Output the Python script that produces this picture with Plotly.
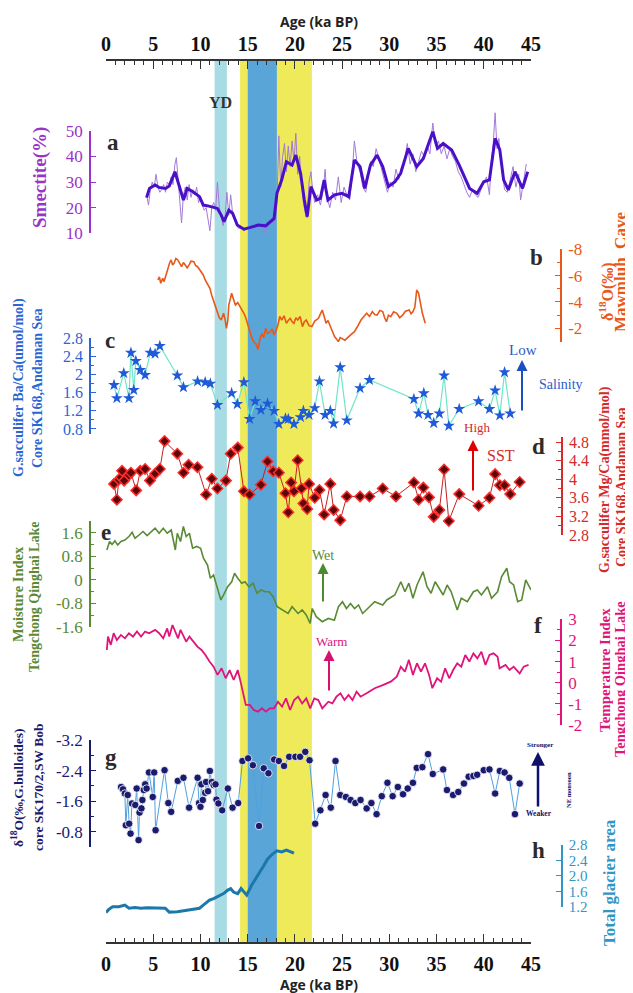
import plotly.graph_objects as go

# ---------------- data (ages in ka BP) ----------------
age_ticks = [0, 5, 10, 15, 20, 25, 30, 35, 40, 45]

yd_band = [11.5, 12.8]
yellow_band_1 = [14.2, 15.0]
blue_band = [15.0, 18.1]
yellow_band_2 = [18.1, 21.8]

# a: Smectite (%) raw and smoothed
a_raw_age = [4.3, 4.5, 4.7, 4.9, 5.1, 5.3, 5.5, 5.7, 5.9, 6.1, 6.3, 6.5, 6.7, 6.9, 7.1, 7.3, 7.45, 7.7, 7.9, 8.0,
             8.2, 8.4, 8.6, 8.8, 9.0, 9.2, 9.4, 9.6, 9.8, 10.0, 10.2, 10.4, 10.6, 10.8, 11.0, 11.2, 11.4, 11.6, 11.8, 12.0,
             12.2, 12.4, 12.6, 12.8, 13.0, 13.2, 13.4, 13.6, 13.8, 14.0, 14.3, 14.6, 15.0, 15.4, 15.8, 16.2, 16.6, 16.9, 17.2, 17.6,
             17.9, 18.1, 18.3, 18.5, 18.7, 18.9, 19.1, 19.3, 19.5, 19.7, 19.9, 20.1, 20.3, 20.5, 20.7, 20.9, 21.1, 21.3, 21.5, 21.7,
             21.9, 22.1, 22.4, 22.7, 23.0, 23.2, 23.4, 23.7, 24.0, 24.3, 24.6, 24.9, 25.2, 25.5, 25.8, 26.0, 26.3, 26.6, 26.9, 27.2,
             27.5, 27.8, 28.0, 28.3, 28.6, 28.9, 29.2, 29.5, 29.8, 30.1, 30.4, 30.7, 31.0, 31.3, 31.6, 31.9, 32.2, 32.5, 32.8, 33.1,
             33.4, 33.7, 34.0, 34.3, 34.6, 34.9, 35.2, 35.5, 35.8, 36.1, 36.4, 36.7, 37.0, 37.3, 37.6, 37.9, 38.2, 38.5, 38.8, 39.1,
             39.4, 39.7, 40.0, 40.3, 40.6, 40.8, 41.0, 41.2, 41.4, 41.6, 41.8, 42.0, 42.2, 42.5, 42.8, 43.1, 43.4, 43.7, 43.9, 44.2,
             44.5]
a_raw_val = [25, 21, 27, 30, 28, 33, 28, 26, 27, 29, 26, 30, 29, 32, 29, 37, 39.5, 28, 20, 14,
             25, 28, 23, 29, 24, 27, 25, 28, 22, 24, 21, 19, 20, 16, 11, 20, 22, 19, 30, 20,
             16, 13, 16, 26, 17, 25, 18, 16, 14, 12, 12, 11, 12, 13, 12, 14, 12, 10, 13, 15,
             14, 22, 48, 28, 40, 45, 34, 44, 36, 46, 38, 49, 33, 40, 30, 22, 18, 16, 30, 34,
             26, 22, 25, 21, 27, 35, 24, 20, 26, 23, 32, 22, 28, 25, 23, 30, 46, 37, 34, 28,
             26, 34, 38, 36, 43, 39, 35, 30, 26, 30, 28, 35, 31, 36, 38, 45, 37, 41, 34, 38,
             42, 40, 44, 41, 53, 44, 46, 41, 44, 39, 43, 40, 38, 34, 32, 29, 26, 24, 27, 25,
             24, 27, 30, 32, 25, 38, 45, 57, 43, 47, 38, 33, 27, 26, 31, 36, 28, 33, 23, 30,
             37]
a_age = [4.3, 4.6, 5.2, 5.6, 6.3, 6.7, 7.3, 7.7, 8.2, 8.6, 9.2, 9.9, 10.3, 10.9, 11.8, 12.2, 12.5, 13.0, 13.4, 13.9,
         14.6, 15.2, 16.1, 16.9, 17.8, 18.1, 18.6, 19.1, 19.7, 20.1, 20.6, 21.0, 21.3, 21.7, 22.3, 22.7, 23.1, 23.5, 24.2, 25.0,
         25.7, 26.3, 26.9, 27.4, 28.0, 28.7, 29.3, 29.9, 30.6, 31.2, 32.0, 32.5, 32.9, 33.6, 34.0, 34.6, 35.1, 35.7, 36.6, 37.4,
         38.5, 39.3, 40.0, 40.6, 41.2, 41.7, 42.1, 42.6, 43.3, 43.8, 44.1, 44.65]
a_val = [23.9, 27.5, 28.8, 27.9, 27.5, 28.4, 34.0, 29.5, 23.0, 27.5, 26.2, 24.3, 21.0, 20.6, 19.7, 17.1, 14.5, 19.0, 17.8, 13.2,
         11.6, 12.2, 13.2, 12.9, 15.8, 25.6, 30.8, 37.9, 36.6, 40.5, 33.4, 23.0, 16.5, 28.2, 23.0, 23.6, 30.8, 23.0, 25.0, 25.6,
         24.3, 38.6, 36.0, 27.5, 36.6, 40.5, 36.0, 28.2, 30.1, 33.4, 43.1, 39.2, 36.0, 39.2, 43.1, 49.6, 43.1, 45.0, 42.5, 36.6,
         27.5, 25.6, 30.1, 30.8, 47.0, 42.5, 30.8, 26.9, 34.0, 29.5, 27.5, 34.0]

# b: Mawmluh Cave d18O (permil)
b_age = [5.5, 5.65, 5.8, 6.0, 6.15, 6.3, 6.45, 6.6, 6.75, 6.9, 7.05, 7.2, 7.4, 7.6, 7.8, 8.0, 8.2, 8.4, 8.6, 8.8,
         9.0, 9.3, 9.5, 9.7, 9.9, 10.1, 10.3, 10.5, 10.75, 11.0, 11.2, 11.4, 11.6, 11.8, 12.0, 12.2, 12.45, 12.6, 12.75, 12.9,
         13.0, 13.15, 13.3, 13.5, 13.7, 13.95, 14.2, 14.4, 14.6, 14.8, 15.0, 15.2, 15.4, 15.55, 15.7, 15.9, 16.1, 16.3, 16.5, 16.7,
         16.9, 17.1, 17.4, 17.6, 17.8, 18.0, 18.2, 18.4, 18.6, 18.85, 19.1, 19.3, 19.5, 19.7, 19.9, 20.1, 20.3, 20.55, 20.8, 21.0,
         21.2, 21.5, 21.8, 22.1, 22.5, 22.7, 22.9, 23.1, 23.3, 23.5, 23.75, 24.0, 24.2, 24.4, 24.6, 24.8, 25.0, 25.3, 25.7, 26.0,
         26.3, 26.6, 27.0, 27.3, 27.6, 27.9, 28.2, 28.45, 28.7, 29.0, 29.3, 29.5, 29.7, 29.9, 30.15, 30.45, 30.8, 31.1, 31.4, 31.7,
         32.1, 32.3, 32.5, 32.7, 32.9, 33.1, 33.3, 33.5, 33.8]
b_val = [-5.67, -5.90, -5.42, -5.80, -5.55, -5.92, -6.40, -6.68, -7.00, -7.19, -6.80, -6.94, -7.30, -7.19, -6.90, -6.68, -7.00, -6.81, -6.60, -6.81,
         -7.10, -7.06, -6.75, -6.68, -6.45, -6.30, -6.05, -5.67, -5.30, -5.04, -4.50, -4.03, -3.55, -3.14, -2.80, -2.63, -3.14, -2.70, -2.00, -2.60,
         -3.77, -4.20, -4.66, -4.20, -3.77, -3.95, -3.65, -3.40, -3.14, -2.80, -2.25, -1.90, -1.37, -1.10, -0.90, -0.80, -0.40, -1.20, -1.60, -1.30,
         -2.00, -1.60, -1.75, -1.95, -1.50, -1.80, -2.25, -2.90, -2.63, -2.95, -2.38, -2.60, -2.76, -2.50, -2.38, -2.80, -2.63, -2.90, -2.13, -2.50,
         -2.63, -2.20, -2.13, -2.55, -2.76, -3.10, -3.39, -2.90, -2.38, -2.60, -2.13, -1.80, -1.37, -1.20, -0.99, -1.30, -1.24, -1.10, -1.37, -1.55,
         -1.75, -2.10, -2.63, -2.90, -3.14, -2.90, -3.27, -3.05, -3.00, -3.35, -3.27, -2.80, -2.50, -3.00, -2.89, -3.25, -3.14, -2.80, -3.00, -3.30,
         -3.39, -3.10, -3.27, -3.60, -4.91, -4.66, -3.90, -3.14, -2.38]

# c: G.sacculifer Ba/Ca (umol/mol)
c_age = [0.85, 1.15, 1.88, 2.43, 2.64, 2.94, 3.16, 3.63, 4.14, 4.69, 5.2, 5.7, 7.55, 8.2, 9.7, 10.5, 11.05, 11.8, 13.3, 13.9,
         14.6, 15.2, 15.8, 16.4, 17.1, 17.8, 18.3, 19.0, 19.3, 19.9, 20.6, 20.9, 21.5, 22.1, 22.6, 23.2, 23.75, 24.1, 24.8, 25.5,
         26.9, 27.9, 32.6, 33.1, 33.65, 34.1, 34.7, 35.3, 35.8, 36.3, 37.4, 39.45, 40.6, 41.2, 41.7, 42.2, 42.8]
c_val = [1.77, 1.48, 2.03, 1.48, 2.48, 1.66, 2.30, 2.10, 1.99, 2.48, 2.46, 2.63, 1.98, 1.72, 1.85, 1.83, 1.80, 1.33, 1.59, 1.35,
         1.83, 1.02, 1.41, 1.22, 1.36, 1.20, 0.91, 1.03, 1.02, 0.91, 1.06, 1.20, 1.11, 1.26, 1.85, 1.11, 1.20, 0.92, 2.16, 0.99,
         1.70, 1.88, 1.46, 1.14, 1.59, 1.11, 0.93, 1.14, 1.98, 0.87, 1.24, 1.41, 1.24, 1.65, 1.10, 2.05, 1.14]

# d: G.sacculifer Mg/Ca (mmol/mol)
d_age = [0.85, 1.15, 1.36, 1.58, 1.7, 1.92, 2.43, 2.64, 3.2, 3.63, 4.14, 4.65, 5.2, 5.7, 6.2, 7.55, 8.2, 8.74, 9.68, 10.6,
         11.2, 11.8, 12.7, 13.2, 13.95, 14.6, 15.2, 16.4, 17.1, 17.7, 18.3, 19.0, 19.3, 19.6, 19.9, 20.3, 20.7, 20.9, 21.3, 21.5,
         22.1, 22.6, 23.1, 23.75, 24.1, 24.8, 25.5, 26.9, 27.9, 29.3, 30.7, 32.6, 33.1, 33.6, 34.2, 34.7, 35.3, 35.8, 36.3, 37.4,
         39.45, 40.6, 41.2, 41.7, 42.2, 42.8, 43.8]
d_val = [3.90, 3.56, 3.99, 4.04, 4.18, 3.97, 4.09, 4.14, 3.76, 4.18, 4.22, 3.97, 4.12, 4.22, 4.82, 4.55, 4.14, 4.31, 4.26, 3.67,
         4.01, 3.80, 3.97, 4.55, 4.68, 3.74, 3.67, 3.88, 4.38, 4.17, 4.14, 3.70, 3.29, 3.93, 3.74, 4.41, 3.80, 3.48, 3.36, 3.90,
         3.60, 3.77, 3.24, 3.90, 3.34, 3.12, 3.63, 3.63, 3.63, 3.80, 3.63, 3.93, 3.56, 3.82, 3.61, 3.19, 3.34, 4.21, 3.10, 3.68,
         3.43, 3.60, 4.11, 3.87, 3.87, 3.68, 3.94]

# e: Moisture Index, Tengchong Qinghai Lake
e_age = [0.09, 0.38, 0.64, 0.94, 1.24, 1.58, 2.0, 2.43, 2.77, 3.07, 3.50, 3.92, 4.35, 4.78, 5.20, 5.63, 6.06, 6.48, 6.91, 7.34,
         7.55, 7.89, 8.19, 8.49, 8.83, 9.17, 9.60, 10.02, 10.32, 10.75, 11.05, 11.39, 11.81, 12.16, 12.45, 12.88, 13.31, 13.61, 13.95, 14.37,
         14.71, 15.14, 15.57, 15.99, 16.42, 16.85, 17.27, 17.70, 18.13, 18.64, 19.28, 19.70, 20.34, 20.77, 21.20, 21.62, 21.84, 22.26, 22.90, 23.54,
         24.18, 24.61, 25.04, 25.46, 25.89, 26.32, 26.74, 27.17, 27.59, 28.45, 29.30, 29.73, 30.58, 31.22, 31.65, 32.07, 32.50, 32.93, 33.57, 33.99,
         34.42, 34.85, 35.27, 35.70, 36.12, 36.55, 37.19, 37.62, 38.26, 38.90, 39.32, 39.75, 40.39, 40.82, 41.46, 41.88, 42.44, 42.73, 43.16, 43.59,
         44.01, 44.44, 45.0]
e_val = [1.02, 1.31, 1.21, 1.33, 1.19, 1.31, 1.36, 1.48, 1.62, 1.42, 1.53, 1.65, 1.51, 1.65, 1.76, 1.59, 1.76, 1.59, 1.70, 1.02,
         1.59, 1.31, 1.82, 1.48, 1.59, 1.08, 1.14, 1.08, 0.74, 0.51, 0.06, 0.17, -0.28, -0.68, -0.51, -0.23, -0.06, 0.23, 0.06, -0.11,
         -0.06, -0.23, -0.11, -0.45, -0.34, -0.40, -0.40, -0.57, -0.91, -1.02, -1.14, -0.91, -1.14, -1.02, -1.19, -1.48, -0.97, -1.25, -1.42, -1.31,
         -1.37, -0.91, -0.74, -0.97, -0.80, -0.97, -0.85, -1.14, -1.02, -0.74, -0.85, -0.68, -0.51, -0.06, -0.40, -0.11, -0.62, -0.17, 0.28, -0.23,
         -0.45, -0.06, -0.28, -0.51, -0.17, -0.40, -1.02, -0.62, -0.74, -0.40, -0.34, -0.51, -0.23, -0.62, -0.40, 0.11, 0.40, -0.06, -0.17, -0.74,
         -0.68, 0.0, -0.34]

# f: Temperature Index, Tengchong Qinghai Lake
f_age = [0.09, 0.21, 0.51, 0.81, 1.15, 1.58, 2.0, 2.43, 2.86, 3.28, 3.71, 4.14, 4.56, 5.20, 5.63, 6.06, 6.48, 6.70, 7.04, 7.34,
         7.63, 7.89, 8.19, 8.49, 8.83, 9.25, 9.68, 10.11, 10.53, 10.96, 11.39, 11.81, 12.24, 12.67, 13.09, 13.52, 13.95, 14.29, 14.59, 14.80,
         15.23, 15.65, 16.08, 16.51, 16.93, 17.36, 17.79, 18.21, 18.64, 19.06, 19.49, 19.92, 20.34, 20.77, 21.20, 21.62, 22.05, 22.48, 22.90, 23.54,
         23.97, 24.40, 24.82, 25.25, 25.68, 26.10, 26.53, 26.95, 27.59, 28.45, 29.30, 30.15, 30.79, 31.22, 31.65, 32.07, 32.50, 32.93, 33.35, 33.78,
         34.21, 34.55, 35.06, 35.48, 35.91, 36.34, 36.76, 37.19, 37.62, 38.04, 38.47, 38.90, 39.32, 39.75, 40.18, 40.60, 41.03, 41.46, 41.67, 42.31,
         42.73, 43.16, 43.80, 44.23, 44.74]
f_val = [1.55, 2.18, 1.79, 2.34, 2.02, 2.26, 2.10, 2.34, 2.18, 2.42, 2.18, 2.42, 2.34, 2.50, 2.34, 2.10, 2.57, 2.18, 2.73, 2.42,
         2.10, 2.50, 2.18, 1.94, 2.18, 1.94, 1.71, 1.55, 1.31, 1.00, 0.76, 0.37, 0.68, 0.21, 0.60, 0.13, 0.60, -0.03, -0.66, -1.05,
         -1.05, -1.29, -1.37, -1.21, -1.37, -1.21, -1.21, -0.90, -1.13, -0.74, -1.29, -0.82, -0.66, -0.98, -0.74, -1.21, -0.74, -0.82, -1.21, -0.90,
         -0.98, -0.66, -0.50, -0.82, -0.58, -0.82, -0.42, -0.66, -0.50, -0.26, -0.11, 0.05, 0.29, 0.76, 0.52, 1.08, 0.37, 0.92, 0.52, 0.92,
         0.37, -0.26, 0.21, 0.05, 0.68, 0.21, 0.60, 0.92, 0.76, 1.31, 1.00, 1.39, 1.15, 1.47, 0.84, 1.31, 1.39, 1.23, 0.68, 0.84,
         0.60, 0.76, 0.44, 0.76, 0.84]

# g: d18O G.bulloides, core SK170/2, SW BoB
g_age = [1.6, 1.8, 2.0, 2.1, 2.3, 2.45, 2.6, 2.75, 3.1, 3.25, 3.45, 3.55, 3.75, 3.85, 4.0, 4.15, 4.3, 4.55, 4.95, 5.1,
         5.25, 6.2, 6.6, 6.9, 7.6, 8.2, 8.8, 9.7, 9.85, 10.0, 10.1, 10.25, 10.5, 10.6, 10.8, 11.0, 11.2, 11.4, 11.6, 11.7,
         11.9, 12.3, 12.9, 13.4, 14.0, 14.45, 15.05, 15.55, 16.2, 16.7, 17.2, 17.8, 18.3, 18.85, 19.4, 20.05, 20.55, 21.1, 21.55, 22.15,
         22.7, 23.25, 23.8, 24.3, 24.8, 25.4, 25.9, 26.4, 26.95, 27.6, 28.1, 28.65, 29.2, 29.8, 30.35, 30.9, 31.45, 31.95, 32.5, 32.9,
         33.5, 34.1, 34.6, 35.7, 36.1, 36.75, 37.3, 37.9, 38.4, 38.9, 39.3, 40.0, 40.6, 41.2, 41.7, 42.2, 42.7, 43.3, 43.8]
g_val = [-1.97, -1.91, -1.80, -0.97, -1.76, -1.01, -0.75, -1.54, -1.50, -1.93, -0.58, -1.30, -1.41, -1.63, -1.89, -2.04, -1.93, -2.35, -1.71, -2.35,
         -0.84, -2.41, -1.55, -1.32, -2.13, -2.21, -1.43, -2.21, -1.55, -1.45, -2.04, -1.63, -1.82, -2.10, -1.86, -2.39, -2.10, -2.02, -2.04, -1.64,
         -1.54, -1.36, -1.93, -1.43, -1.55, -2.65, -2.72, -2.54, -0.95, -2.46, -2.33, -2.69, -2.65, -2.52, -2.76, -2.76, -2.76, -2.89, -2.67, -1.01,
         -1.36, -1.76, -1.43, -2.65, -1.76, -1.71, -1.63, -1.55, -1.63, -1.41, -1.55, -1.26, -1.73, -2.08, -1.73, -1.97, -1.78, -1.93, -2.08, -2.47,
         -2.49, -2.83, -2.31, -2.43, -1.89, -1.76, -1.84, -2.06, -2.24, -2.26, -2.29, -2.41, -2.43, -1.80, -2.39, -2.35, -2.21, -1.26, -2.06]

# h: Total glacier area
h_age = [0.0, 0.3, 0.7, 1.36, 2.0, 2.43, 3.07, 3.7, 4.35, 5.0, 5.6, 6.27, 6.7, 7.55, 8.4, 9.25, 9.9, 10.3, 10.96, 11.4,
         12.0, 12.45, 12.9, 13.2, 13.5, 13.95, 14.3, 14.6, 14.9, 15.4, 16.1, 16.7, 17.1, 17.6, 18.1, 18.6, 19.1, 19.5, 19.9]
h_val = [1.05, 1.13, 1.20, 1.20, 1.24, 1.16, 1.18, 1.16, 1.17, 1.16, 1.17, 1.16, 1.06, 1.07, 1.10, 1.13, 1.16, 1.24, 1.37, 1.41,
         1.48, 1.54, 1.63, 1.67, 1.58, 1.54, 1.67, 1.58, 1.50, 1.75, 2.01, 2.26, 2.43, 2.56, 2.65, 2.62, 2.67, 2.62, 2.59]

# ---------------- layout helpers ----------------
# the page body has an 8px margin, so the figure is drawn at (8, 8) in the window
OFF = 8
W, H = 633 - OFF, 993 - OFF
SERIF = "Liberation Serif, Times New Roman, DejaVu Serif, serif"
SANS = "Open Sans, Noto Sans, sans-serif"


def fx(p):
    return (p - OFF) / W


def fy(p):
    return 1 - (p - OFF) / H


X_LEFT, X_RIGHT = 106, 531
X_BOTTOM, X_TOP = 943, 60
EXT = 45  # extra pixels for data axes so lines are not clipped

C_A, C_A_THIN, C_A_THICK = "#9a34c8", "#a27ad8", "#4a10c8"
C_B = "#e8581a"
C_C, C_C_LINE = "#2a66d4", "#6ee6c8"
C_D, C_D_LINE, C_D_MK = "#d42a2a", "#c81e1e", "#5a0808"
C_E = "#5a8a34"
C_F = "#e0147a"
C_G, C_G_LINE = "#1a1a6e", "#4fa0e0"
C_H, C_H_LINE = "#2f96c6", "#1a78aa"

panels = [
    dict(key="a", side="left", pos=90, bv=10, tv=50, bp=233.3, tp=130.7,
         tickvals=[10, 20, 30, 40, 50], ticktext=["10", "20", "30", "40", "50"], minor=None, color=C_A, size=17),
    dict(key="b", side="right", pos=561, bv=-1, tv=-8, bp=341.5, tp=249.3,
         tickvals=[-8, -6, -4, -2], ticktext=["-8", "-6", "-4", "-2"], minor=1, color=C_B, size=17),
    dict(key="c", side="left", pos=90, bv=0.7, tv=2.8, bp=433.5, tp=338.3,
         tickvals=[0.8, 1.2, 1.6, 2.0, 2.4, 2.8], ticktext=["0.8", "1.2", "1.6", "2", "2.4", "2.8"], minor=0.2, color=C_C, size=16),
    dict(key="d", side="right", pos=562, bv=2.8, tv=4.9, bp=535, tp=437.4,
         tickvals=[2.8, 3.2, 3.6, 4.0, 4.4, 4.8], ticktext=["2.8", "3.2", "3.6", "4", "4.4", "4.8"], minor=0.2, color=C_D, size=16),
    dict(key="e", side="left", pos=90, bv=-1.6, tv=2.0, bp=627, tp=521.2,
         tickvals=[-1.6, -0.8, 0, 0.8, 1.6], ticktext=["-1.6", "-0.8", "0", "0.8", "1.6"], minor=0.4, color=C_E, size=17),
    dict(key="f", side="right", pos=561, bv=-2, tv=3, bp=725, tp=619.3,
         tickvals=[-2, -1, 0, 1, 2, 3], ticktext=["-2", "-1", "0", "1", "2", "3"], minor=0.5, color=C_F, size=17),
    dict(key="g", side="left", pos=90, bv=-0.4, tv=-3.2, bp=847, tp=740,
         tickvals=[-3.2, -2.4, -1.6, -0.8], ticktext=["-3.2", "-2.4", "-1.6", "-0.8"], minor=0.4, color=C_G, size=17),
    dict(key="h", side="right", pos=562, bv=1.2, tv=2.8, bp=906.7, tp=845,
         tickvals=[1.2, 1.6, 2.0, 2.4, 2.8], ticktext=["1.2", "1.6", "2.0", "2.4", "2.8"], minor=None, color=C_H, size=15),
]

fig = go.Figure()
layout = {}
data_axis = {}
n = 2
for p in panels:
    vis, dat = f"yaxis{n}", f"yaxis{n + 1}"
    u = (p["tv"] - p["bv"]) / (p["bp"] - p["tp"])
    ax = dict(domain=[fy(p["bp"]), fy(p["tp"])], range=[p["bv"], p["tv"]], anchor="free",
              position=fx(p["pos"]), side=p["side"], showline=True, linecolor=p["color"], linewidth=1.5,
              ticks="inside", ticklen=5, tickwidth=1.2, tickcolor=p["color"], tickmode="array",
              tickvals=p["tickvals"], ticktext=p["ticktext"], ticklabelstandoff=3, automargin=False,
              tickfont=dict(family=SERIF, size=p["size"], color=p["color"]),
              showgrid=False, zeroline=False, fixedrange=True)
    if p["minor"]:
        ax["minor"] = dict(tickmode="linear", tick0=0, dtick=p["minor"], ticks="inside", ticklen=3,
                           tickcolor=p["color"], tickwidth=1, showgrid=False)
    layout[vis] = ax
    layout[dat] = dict(domain=[fy(p["bp"] + EXT), fy(p["tp"] - EXT)],
                       range=[p["bv"] - EXT * u, p["tv"] + EXT * u], anchor="free", automargin=False,
                       position=fx(p["pos"]), visible=False, showgrid=False, zeroline=False, fixedrange=True)
    fig.add_trace(go.Scatter(x=[None], y=[None], yaxis=f"y{n}", mode="lines", showlegend=False, hoverinfo="skip"))
    data_axis[p["key"]] = f"y{n + 1}"
    n += 2

# ---------------- traces ----------------
fig.add_trace(go.Scatter(x=a_raw_age, y=a_raw_val, yaxis=data_axis["a"], mode="lines",
                         line=dict(color=C_A_THIN, width=1), showlegend=False))
fig.add_trace(go.Scatter(x=a_age, y=a_val, yaxis=data_axis["a"], mode="lines",
                         line=dict(color=C_A_THICK, width=3), showlegend=False))
fig.add_trace(go.Scatter(x=b_age, y=b_val, yaxis=data_axis["b"], mode="lines",
                         line=dict(color=C_B, width=1.6), showlegend=False))
fig.add_trace(go.Scatter(x=c_age, y=c_val, yaxis=data_axis["c"], mode="lines+markers",
                         line=dict(color=C_C_LINE, width=1.2),
                         marker=dict(symbol="star", size=9, color="#1f5ad8", line=dict(width=0)), showlegend=False))
fig.add_trace(go.Scatter(x=d_age, y=d_val, yaxis=data_axis["d"], mode="lines+markers",
                         line=dict(color=C_D_LINE, width=1),
                         marker=dict(symbol="diamond", size=8, color=C_D_MK, line=dict(width=1.5, color="#ff2a2a")),
                         showlegend=False))
fig.add_trace(go.Scatter(x=e_age, y=e_val, yaxis=data_axis["e"], mode="lines",
                         line=dict(color=C_E, width=1.6), showlegend=False))
fig.add_trace(go.Scatter(x=f_age, y=f_val, yaxis=data_axis["f"], mode="lines",
                         line=dict(color=C_F, width=1.8), showlegend=False))
fig.add_trace(go.Scatter(x=g_age, y=g_val, yaxis=data_axis["g"], mode="lines+markers",
                         line=dict(color=C_G_LINE, width=1),
                         marker=dict(symbol="circle", size=7.5, color=C_G, line=dict(width=0.8, color="white")),
                         showlegend=False))
fig.add_trace(go.Scatter(x=h_age, y=h_val, yaxis=data_axis["h"], mode="lines",
                         line=dict(color=C_H_LINE, width=3), showlegend=False))
# dummy trace for the top axis
fig.add_trace(go.Scatter(x=[None], y=[None], xaxis="x2", yaxis="y", mode="lines", showlegend=False, hoverinfo="skip"))

# ---------------- x axes ----------------
xcommon = dict(domain=[fx(X_LEFT), fx(X_RIGHT)], range=[0, 45], anchor="free", showline=True,
               linecolor="#333333", linewidth=1.5, ticks="inside", ticklen=8, tickwidth=1.3, tickcolor="#333333",
               tickmode="array", tickvals=age_ticks, ticktext=[str(t) for t in age_ticks], automargin=False,
               tickfont=dict(family=SERIF, size=20, color="#111111", weight="bold"),
               minor=dict(tickmode="linear", tick0=0, dtick=1, ticks="inside", ticklen=4, tickcolor="#333333",
                          tickwidth=1, showgrid=False),
               showgrid=False, zeroline=False, fixedrange=True)
layout["xaxis"] = dict(xcommon, position=fy(X_BOTTOM), side="bottom", ticklabelstandoff=3)
layout["xaxis2"] = dict(xcommon, position=fy(X_TOP), side="top", overlaying="x", ticklabelstandoff=0)
layout["yaxis"] = dict(domain=[fy(X_BOTTOM), fy(X_TOP)], range=[0, 1], visible=False, anchor="x",
                       automargin=False, fixedrange=True)

# ---------------- bands ----------------
shapes = []
for band, col in [(yd_band, "#a8dce4"), (yellow_band_1, "#eeea5a"), (blue_band, "#5aa5d8"), (yellow_band_2, "#eeea5a")]:
    shapes.append(dict(type="rect", xref="x", yref="paper", x0=band[0], x1=band[1],
                       y0=fy(X_BOTTOM), y1=fy(X_TOP + 1), fillcolor=col, line=dict(width=0), layer="below"))

# ---------------- annotations ----------------
ann = []


def text(x, y, s, size, color, family=SERIF, bold=False, angle=0):
    ann.append(dict(x=fx(x), y=fy(y), xref="paper", yref="paper", text=s, showarrow=False,
                    textangle=angle, xanchor="center", yanchor="middle",
                    font=dict(family=family, size=size, color=color, weight="bold" if bold else "normal")))


def arrow(x, y_head, y_tail, color, width=2):
    ann.append(dict(x=fx(x), y=fy(y_head), xref="paper", yref="paper", text="", showarrow=True,
                    ax=0, ay=y_tail - y_head, axref="pixel", ayref="pixel", arrowhead=2, arrowsize=1.1,
                    arrowwidth=width, arrowcolor=color))


text(318.5, 22, "Age (ka BP)", 14, "#222222", family=SANS, bold=True)
text(318.5, 984, "Age (ka BP)", 14, "#222222", family=SANS, bold=True)
text(220, 103, "YD", 16, "#333333", bold=True)

for k, (x, y) in dict(a=(113, 143), b=(536, 257), c=(110, 340), d=(538, 447), e=(106, 532),
                      f=(538, 625), g=(111, 757), h=(538, 850)).items():
    text(x, y, k, 23, "#2b2b2b", bold=True)

# left titles
text(40, 178, "Smectite(%)", 19, C_A, bold=True, angle=-90)
text(19, 388, "G.sacculifer Ba/Ca(umol/mol)", 14, C_C, bold=True, angle=-90)
text(37, 388, "Core SK168,Andaman Sea", 14, C_C, bold=True, angle=-90)
text(18, 594, "Moisture Index", 14.5, C_E, bold=True, angle=-90)
text(34, 597, "Tengchong Qinghai Lake", 14, C_E, bold=True, angle=-90)
text(17, 788, "δ<sup>18</sup>O(‰,G.bulloides)", 13.5, C_G, bold=True, angle=-90)
text(38, 788, "core SK170/2,SW Bob", 13.5, C_G, bold=True, angle=-90)

# right titles
text(606, 292, "δ<sup>18</sup>O(‰)", 16, C_B, bold=True, angle=-90)
text(621, 272, "Mawmluh  Cave", 17, C_B, bold=True, angle=-90)
text(605, 480, "G.sacculifer Mg/Ca(mmol/mol)", 14, C_D, bold=True, angle=-90)
text(621, 487, "Core SK168,Andaman Sea", 14, C_D, bold=True, angle=-90)
text(605, 670, "Temperature Index", 15, C_F, bold=True, angle=-90)
text(620, 679, "Tengchong Qinghai Lake", 14.5, C_F, bold=True, angle=-90)
text(609, 883, "Total glacier area", 17, C_H, bold=True, angle=-90)

# indicator arrows and labels
arrow(522, 360, 412, "#1a4fc0")
text(523, 350, "Low", 15, "#2a5cc8")
text(561, 384, "Salinity", 14, "#2a5cc8")
arrow(473, 440, 492, "#e00000")
text(477, 428, "High", 13, C_D)
text(501, 455, "SST", 16, C_D)
arrow(323, 563, 603, "#4a8a30")
text(323, 555, "Wet", 14, C_E)
arrow(329, 650, 692, "#d81070")
text(331, 641, "Warm", 13, C_F)
arrow(538, 752, 808, "#10106a", width=2.5)
text(540, 745, "Stronger", 7, "#10106a", bold=True)
text(539, 813, "Weaker", 7.5, "#10106a", bold=True)
text(568, 790, "NE monsoon", 6.5, "#10106a", bold=True, angle=-90)

fig.update_layout(width=W, height=H, margin=dict(l=0, r=0, t=0, b=0, autoexpand=False), autosize=False,
                  paper_bgcolor="white", plot_bgcolor="rgba(0,0,0,0)", showlegend=False,
                  shapes=shapes, annotations=ann, **layout)

fig.write_html("out.html")
